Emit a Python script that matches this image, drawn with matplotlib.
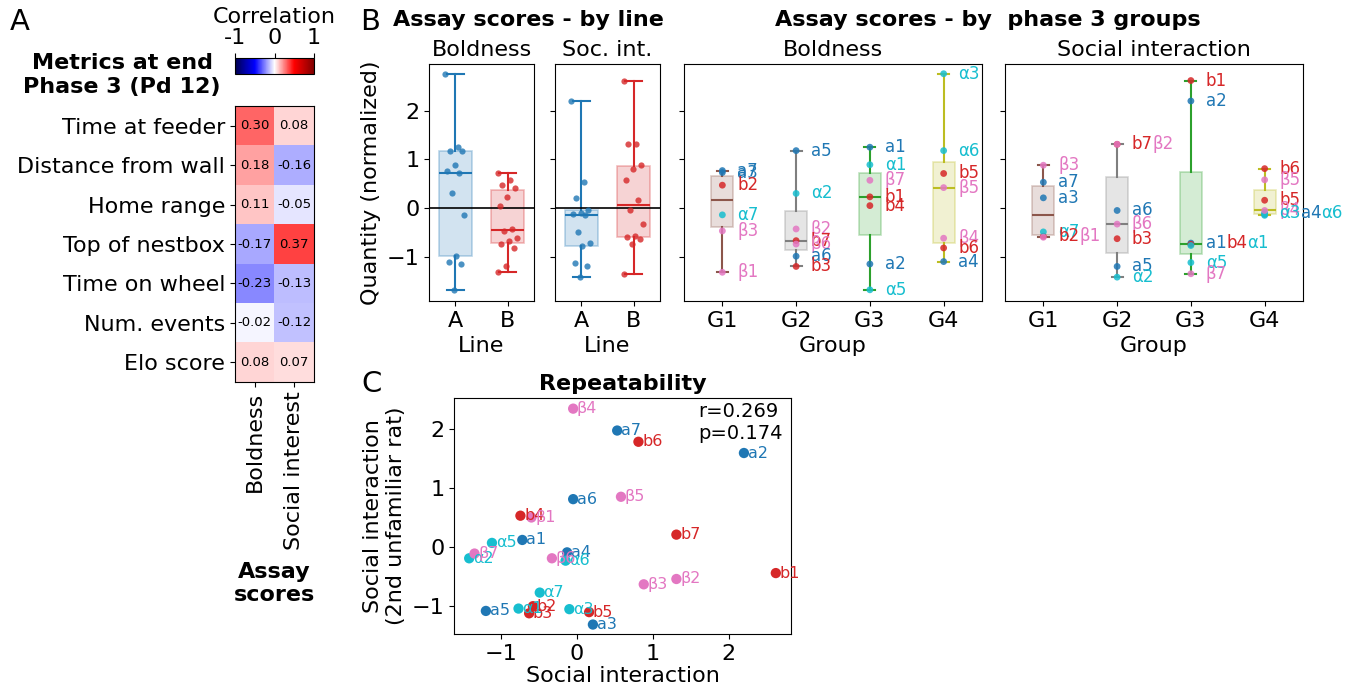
import matplotlib.pyplot as plt
import matplotlib.colors as mcolors
import numpy as np

# ---- data ----
metrics = ["Time at feeder", "Distance from wall", "Home range", "Top of nestbox",
           "Time on wheel", "Num. events", "Elo score"]
corr_boldness = [0.30, 0.18, 0.11, -0.17, -0.23, -0.02, 0.08]
corr_social = [0.08, -0.16, -0.05, 0.37, -0.13, -0.12, 0.07]
assays = ["Boldness", "Social interest"]

names = ["a1", "a2", "a3", "a4", "a5", "a6", "a7",
         "b1", "b2", "b3", "b4", "b5", "b6", "b7",
         "α1", "α2", "α3", "α5", "α6", "α7",
         "β1", "β2", "β3", "β4", "β5", "β6", "β7"]
groups = ["G3", "G3", "G1", "G4", "G2", "G2", "G1",
          "G3", "G1", "G2", "G3", "G4", "G4", "G2",
          "G3", "G2", "G4", "G3", "G4", "G1",
          "G1", "G2", "G1", "G4", "G4", "G2", "G3"]
boldness = [1.25, -1.15, 0.73, -1.10, 1.18, -0.99, 0.77,
            0.23, 0.47, -1.20, 0.05, 0.71, -0.82, -0.67,
            0.89, 0.30, 2.76, -1.68, 1.18, -0.14,
            -1.32, -0.43, -0.47, -0.62, 0.42, -0.74, 0.57]
social = [-0.72, 2.20, 0.21, -0.13, -1.20, -0.05, 0.53,
          2.62, -0.58, -0.63, -0.745, 0.16, 0.81, 1.31,
          -0.77, -1.42, -0.10, -1.12, -0.15, -0.49,
          -0.60, 1.31, 0.88, -0.05, 0.58, -0.33, -1.35]
social2 = [0.12, 1.59, -1.31, -0.09, -1.08, 0.81, 1.97,
           -0.44, -1.00, -1.12, 0.53, -1.10, 1.78, 0.21,
           -1.04, -0.19, -1.05, 0.07, -0.23, -0.77,
           0.50, -0.54, -0.63, 2.34, 0.85, -0.19, -0.11]

line_names = ["A", "B"]
group_names = ["G1", "G2", "G3", "G4"]
group_colors = ["tab:brown", "tab:gray", "tab:green", "tab:olive"]
kind_colors = {"a": "tab:blue", "b": "tab:red", "α": "tab:cyan", "β": "tab:pink"}
line_colors = {"A": "tab:blue", "B": "tab:red"}
stat_text = "r=0.269\np=0.174"

lines = ["A" if n[0] in "aα" else "B" for n in names]
pt_colors = [kind_colors[n[0]] for n in names]

W, H = 1351, 688
fig = plt.figure(figsize=(W / 100, H / 100), dpi=100)


def rect(x0, y0, x1, y1):
    return [x0 / W, 1 - y1 / H, (x1 - x0) / W, (y1 - y0) / H]


def draw_box(ax, vals, pos, color, width):
    bp = ax.boxplot(vals, positions=[pos], widths=width, whis=(0, 100),
                    patch_artist=True, showfliers=False, manage_ticks=False)
    for b in bp['boxes']:
        b.set_facecolor(mcolors.to_rgba(color, 0.2))
        b.set_edgecolor(mcolors.to_rgba(color, 0.3))
        b.set_linewidth(1.2)
    for k in ('whiskers', 'caps', 'medians'):
        for l in bp[k]:
            l.set_color(color)
            l.set_linewidth(1.5)


# ---- panel A: heatmap ----
axA = fig.add_axes(rect(235, 106, 314, 382))
cax = fig.add_axes(rect(235, 58, 314, 74))
hm = np.array([corr_boldness, corr_social]).T
im = axA.imshow(hm, cmap='seismic', vmin=-1, vmax=1, aspect='auto')
for i in range(hm.shape[0]):
    for j in range(hm.shape[1]):
        axA.text(j, i, "%.2f" % hm[i, j], ha='center', va='center', fontsize=9.5)
axA.set_yticks(range(len(metrics)))
axA.set_yticklabels(metrics, fontsize=16)
axA.set_xticks(range(len(assays)))
axA.set_xticklabels(assays, rotation=90, fontsize=16)
axA.set_xlabel("Assay\nscores", fontsize=16, fontweight='bold', labelpad=8)
cb = fig.colorbar(im, cax=cax, orientation='horizontal', ticks=[-1, 0, 1])
cb.set_ticklabels(['-1', '0', '1'])
cax.xaxis.set_ticks_position('top')
cax.xaxis.set_label_position('top')
cax.tick_params(labelsize=16)
cb.set_label("Correlation", fontsize=16)
fig.text(122 / W, 1 - 75 / H, "Metrics at end\nPhase 3 (Pd 12)", ha='center',
         va='center', fontsize=16, fontweight='bold')

# ---- panel B: by line ----
ylim = (-1.91, 2.96)
assay_vals = [boldness, social]
ax_line = [fig.add_axes(rect(429, 64, 534, 301)), fig.add_axes(rect(555, 64, 660, 301))]
for k, (ax, ttl) in enumerate(zip(ax_line, ["Boldness", "Soc. int."])):
    vals = np.array(assay_vals[k])
    for p, ln in enumerate(line_names):
        v = vals[[i for i in range(len(names)) if lines[i] == ln]]
        draw_box(ax, v, p, line_colors[ln], 0.63)
        rank = np.argsort(np.argsort(-v))
        jit = ((rank * 0.618) % 1 - 0.5) * 0.38
        ax.scatter(p + jit, v, s=20, color=line_colors[ln], alpha=0.8, zorder=3, lw=0)
    ax.axhline(0, color='k', lw=1.2)
    ax.set_xlim(-0.5, 1.5)
    ax.set_ylim(*ylim)
    ax.set_yticks([-1, 0, 1, 2])
    ax.set_xticks(range(len(line_names)))
    ax.set_xticklabels(line_names)
    ax.tick_params(labelsize=16)
    ax.set_xlabel("Line", fontsize=16)
    ax.set_title(ttl, fontsize=16)
ax_line[1].tick_params(labelleft=False)
ax_line[0].set_ylabel("Quantity (normalized)", fontsize=16)


def label_group(ax, pos, vals, labs, cols):
    order = sorted(range(len(vals)), key=lambda i: -vals[i])
    prev_val, prev_txt = None, None
    for i in order:
        if prev_txt is not None and prev_val - vals[i] < 0.035:
            prev_txt = ax.annotate(labs[i], xy=(1, 0.5), xycoords=prev_txt, ha='left',
                                   va='center', color=cols[i], fontsize=12)
        else:
            prev_txt = ax.text(pos + 0.2, vals[i], labs[i], ha='left', va='center',
                               color=cols[i], fontsize=12)
        prev_val = vals[i]


# ---- panel B: by group ----
ax_grp = [fig.add_axes(rect(684, 64, 982, 301)), fig.add_axes(rect(1005, 64, 1303, 301))]
for k, (ax, ttl) in enumerate(zip(ax_grp, ["Boldness", "Social interaction"])):
    vals = assay_vals[k]
    for p, g in enumerate(group_names):
        idx = [i for i in range(len(names)) if groups[i] == g]
        v = [vals[i] for i in idx]
        draw_box(ax, v, p, group_colors[p], 0.3)
        ax.scatter([p] * len(v), v, s=24, color=[pt_colors[i] for i in idx],
                   alpha=0.85, zorder=3, lw=0)
        label_group(ax, p, v, [names[i] for i in idx], [pt_colors[i] for i in idx])
    ax.set_xlim(-0.52, 3.52)
    ax.set_ylim(*ylim)
    ax.set_yticks([-1, 0, 1, 2])
    ax.set_xticks(range(len(group_names)))
    ax.set_xticklabels(group_names)
    ax.tick_params(labelsize=16, labelleft=False)
    ax.set_xlabel("Group", fontsize=16)
    ax.set_title(ttl, fontsize=16)

# ---- panel C: repeatability ----
axC = fig.add_axes(rect(454, 398, 791, 634))
axC.scatter(social, social2, s=55, color=pt_colors, zorder=3, lw=0)
for x, y, n, c in zip(social, social2, names, pt_colors):
    axC.text(x + 0.05, y, n, ha='left', va='center', color=c, fontsize=11.5)
axC.set_xlim(-1.62, 2.82)
axC.set_ylim(-1.47, 2.52)
axC.set_xticks([-1, 0, 1, 2])
axC.set_yticks([-1, 0, 1, 2])
axC.tick_params(labelsize=16)
axC.set_xlabel("Social interaction", fontsize=16, labelpad=2)
axC.set_ylabel("Social interaction\n(2nd unfamiliar rat)", fontsize=16)
axC.set_title("Repeatability", fontsize=16, fontweight='bold')
axC.text(0.725, 0.985, stat_text, transform=axC.transAxes, ha='left', va='top', fontsize=14)

# ---- headers ----
fig.text(528 / W, 1 - 20 / H, "Assay scores - by line", ha='center', va='center',
         fontsize=16, fontweight='bold')
fig.text(988 / W, 1 - 20 / H, "Assay scores - by  phase 3 groups", ha='center',
         va='center', fontsize=16, fontweight='bold')
fig.text(20 / W, 1 - 22 / H, "A", ha='center', va='center', fontsize=21)
fig.text(370 / W, 1 - 22 / H, "B", ha='center', va='center', fontsize=21)
fig.text(372 / W, 1 - 384 / H, "C", ha='center', va='center', fontsize=21)

fig.savefig("out.png", dpi=100)
